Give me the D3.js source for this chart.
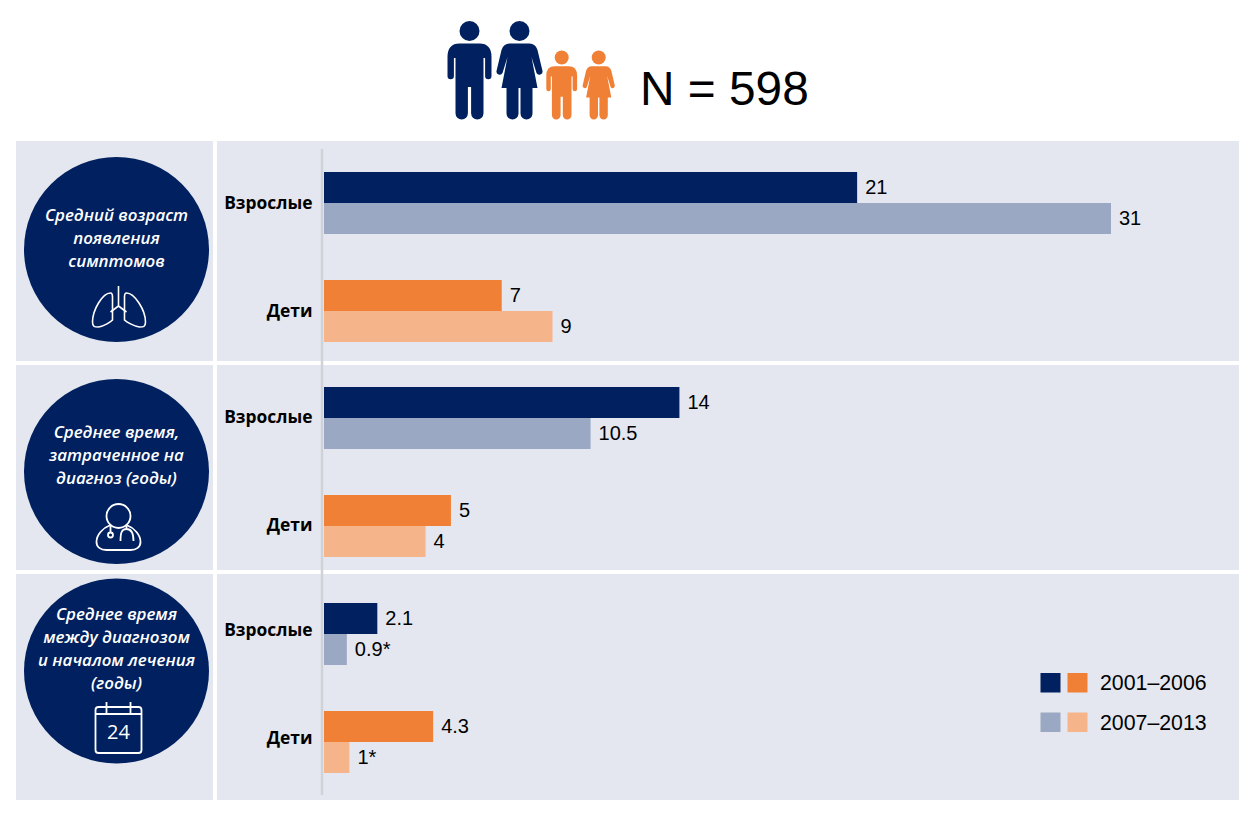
<!DOCTYPE html>
<html>
<head>
<meta charset="utf-8">
<title>N = 598</title>
<script src="https://cdn.jsdelivr.net/npm/d3@7"></script>
<style>
html, body { margin: 0; padding: 0; background: #fff; }
svg { display: block; }
</style>
</head>
<body>
<div id="chart"></div>
<script>
const groups = ["Взрослые", "Дети"];
const periods = ["2001–2006", "2007–2013"];

// [2001-2006, 2007-2013] for adults, then children
const onsetAge = [[21, 31], [7, 9]];
const timeToDiagnosis = [[14, 10.5], [5, 4]];
const timeToTreatment = [[2.1, 0.9], [4.3, 1]];
// stars mark the values flagged in the source
const treatmentLabels = [["2.1", "0.9*"], ["4.3", "1*"]];

const onsetTitle = ["Средний возраст", "появления", "симптомов"];
const diagnosisTitle = ["Среднее время,", "затраченное на", "диагноз (годы)"];
const treatmentTitle = ["Среднее время", "между диагнозом", "и началом лечения", "(годы)"];

const colors = {
	"Взрослые": ["#00205f", "#9aa8c3"],
	"Дети": ["#f08035", "#f6b48a"]
};
const bg = "#e4e7ef";
const navy = "#00205f";
const orange = "#f08035";

const width = 1258, height = 818;

const svg = d3.select("#chart").append("svg")
	.attr("width", width)
	.attr("height", height)
	.attr("viewBox", [0, 0, width, height]);

const panels = [
	{top: 141, bottom: 361, barTop: 172, labelDy: 0, cy: 249.5, icon: lungs, iconY: 312, title: onsetTitle, titleY: 221, values: onsetAge},
	{top: 365, bottom: 570, barTop: 387, labelDy: -1, cy: 471.5, icon: doctor, iconY: 529, title: diagnosisTitle, titleY: 438, values: timeToDiagnosis},
	{top: 574, bottom: 800, barTop: 603, labelDy: -4, cy: 671, icon: calendar, iconY: 724, title: treatmentTitle, titleY: 620, values: timeToTreatment, labels: treatmentLabels}
];

const x = d3.scaleLinear().domain([0, 31]).range([324, 1111]);

// header people
drawMan(svg.append("g").attr("transform", "translate(469.5,21)"), navy);
drawWoman(svg.append("g").attr("transform", "translate(519.5,21)"), navy);
drawMan(svg.append("g").attr("transform", "translate(561.7,50.5) scale(.7)"), orange);
drawWoman(svg.append("g").attr("transform", "translate(598.7,50.5) scale(.7)"), orange);

svg.append("text")
	.attr("x", 640)
	.attr("y", 105)
	.attr("font-family", "'Liberation Sans', Arial, sans-serif")
	.attr("font-size", 47.8)
	.attr("fill", "#000")
	.text("N = 598");

panels.forEach(drawPanel);

// vertical baseline across all three panels
svg.append("line")
	.attr("x1", 322).attr("x2", 322)
	.attr("y1", 149).attr("y2", 795)
	.attr("stroke", "#cfd2d8")
	.attr("stroke-width", 2.5);

drawLegend();

function drawPanel(p){
	const g = svg.append("g");
	g.append("rect")
		.attr("x", 16).attr("y", p.top)
		.attr("width", 197).attr("height", p.bottom - p.top)
		.attr("fill", bg);
	g.append("rect")
		.attr("x", 217).attr("y", p.top)
		.attr("width", 1022).attr("height", p.bottom - p.top)
		.attr("fill", bg);

	g.append("circle")
		.attr("cx", 116.5).attr("cy", p.cy)
		.attr("r", 92.5)
		.attr("fill", navy);

	g.append("g").selectAll("text")
		.data(p.title)
		.enter()
		.append("text")
			.attr("x", 116.5)
			.attr("y", (d, i) => p.titleY + i * 23)
			.attr("text-anchor", "middle")
			.attr("font-family", "'Open Sans', sans-serif")
			.attr("font-style", "italic")
			.attr("font-weight", 600)
			.attr("font-size", 16.9)
			.attr("fill", "#fff")
			.text(d => d);

	p.icon(g.append("g")
		.attr("transform", "translate(118.5," + p.iconY + ")")
		.attr("fill", "none")
		.attr("stroke", "#fff")
		.attr("stroke-width", 1.6));

	const y = d3.scaleBand()
		.domain(groups)
		.range([p.barTop, p.barTop + 170])
		.paddingInner(46 / 108);
	const ySeries = d3.scaleBand()
		.domain(periods)
		.range([0, y.bandwidth()]);

	const axis = g.append("g")
		.attr("transform", "translate(324," + p.labelDy + ")")
		.call(d3.axisLeft(y).tickSize(0).tickPadding(11.5));
	axis.select(".domain").remove();
	axis.selectAll("text")
		.attr("font-family", "'Open Sans', sans-serif")
		.attr("font-weight", 700)
		.attr("font-size", 17.4)
		.attr("fill", "#000");

	groups.forEach(function(group, gi){
		const row = g.append("g").attr("transform", "translate(0," + y(group) + ")");
		const rows = periods.map((period, pi) => ({
			period: period,
			value: p.values[gi][pi],
			label: p.labels ? p.labels[gi][pi] : String(p.values[gi][pi]),
			color: colors[group][pi]
		}));
		row.selectAll("rect")
			.data(rows)
			.enter()
			.append("rect")
				.attr("x", x(0))
				.attr("y", d => ySeries(d.period))
				.attr("width", d => x(d.value) - x(0))
				.attr("height", ySeries.bandwidth())
				.attr("fill", d => d.color);
		row.selectAll("text")
			.data(rows)
			.enter()
			.append("text")
				.attr("x", d => x(d.value) + 8)
				.attr("y", d => ySeries(d.period) + ySeries.bandwidth() / 2 + 6)
				.attr("font-family", "'Liberation Sans', Arial, sans-serif")
				.attr("font-size", 20)
				.attr("fill", "#000")
				.text(d => d.label);
	});
}

function drawLegend(){
	const legend = svg.append("g");
	const rowY = d3.scalePoint().domain(periods).range([673, 712.5]);
	periods.forEach(function(period, i){
		groups.forEach(function(group, j){
			legend.append("rect")
				.attr("x", 1040.5 + j * 27)
				.attr("y", rowY(period))
				.attr("width", 20).attr("height", 19.5)
				.attr("fill", colors[group][i]);
		});
		legend.append("text")
			.attr("x", 1100)
			.attr("y", rowY(period) + 17)
			.attr("font-family", "'Liberation Sans', Arial, sans-serif")
			.attr("font-size", 21.3)
			.attr("fill", "#000")
			.text(period);
	});
}

function drawMan(g, color){
	g.attr("fill", color);
	g.append("circle").attr("cy", 10).attr("r", 10);
	g.append("path").attr("d",
		"M-10,22.5 H10 Q22,22.5 22,36 V55 a3.2,3.2 0 0 1 -6.4,0 V37 H14 V92.3 a6.2,6.2 0 0 1 -12.4,0 V66 H-1.6 V92.3 a6.2,6.2 0 0 1 -12.4,0 V37 H-15.6 V55 a3.2,3.2 0 0 1 -6.4,0 V36 Q-22,22.5 -10,22.5 Z");
}

function drawWoman(g, color){
	g.attr("fill", color);
	g.append("circle").attr("cy", 10).attr("r", 10);
	g.append("path").attr("d",
		"M-10,22.5 H10 Q16,22.5 18,29 L23,50 a3.2,3.2 0 0 1 -6,2 L12,36 L18,67 H13 V92.5 a6,6 0 0 1 -12,0 V67 H-1 V92.5 a6,6 0 0 1 -12,0 V67 H-18 L-12,36 L-17,52 a3.2,3.2 0 0 1 -6,-2 L-18,29 Q-16,22.5 -10,22.5 Z");
}

function lungs(g){
	g.append("path").attr("d", "M0,-26 V-6 M0,-6 L-8,0 M0,-6 L8,0");
	g.append("path").attr("d", "M-8,-19 C-16,-19 -26,-2 -26,10 C-26,15 -24,15 -20,15 C-14,14 -8,10 -6,8 V-15 C-6,-18 -7,-19 -8,-19 Z");
	g.append("path").attr("d", "M8,-19 C16,-19 27,-2 27,10 C27,15 25,15 21,15 C15,14 8,10 6,8 V-15 C6,-18 7,-19 8,-19 Z");
}

function doctor(g){
	g.attr("stroke-width", 1.8);
	g.append("circle").attr("cy", -13).attr("r", 12);
	g.append("path").attr("d", "M-8,-4 C-16,-1 -22,6 -22,13 C-22,18 -18,21 -12,21 H12 C18,21 22,18 22,13 C22,6 16,-1 8,-4");
	g.append("path").attr("d", "M-8,-3 V3");
	g.append("circle").attr("cx", -8).attr("cy", 6).attr("r", 2.5);
	g.append("path").attr("d", "M8,-3 V0 C13,0 15,4 15,12 M8,0 C3,0 2,4 2,12");
}

function calendar(g){
	g.attr("stroke-width", 1.8);
	g.append("rect")
		.attr("x", -23).attr("y", -17)
		.attr("width", 46).attr("height", 46)
		.attr("rx", 3);
	g.append("path").attr("d", "M-23,-10 H23 M-12,-22 V-11 M12,-22 V-11");
	g.append("text")
		.attr("y", 15)
		.attr("text-anchor", "middle")
		.attr("font-family", "'Open Sans', sans-serif")
		.attr("font-size", 20)
		.attr("fill", "#fff")
		.attr("stroke", "none")
		.text("24");
}
</script>
</body>
</html>
